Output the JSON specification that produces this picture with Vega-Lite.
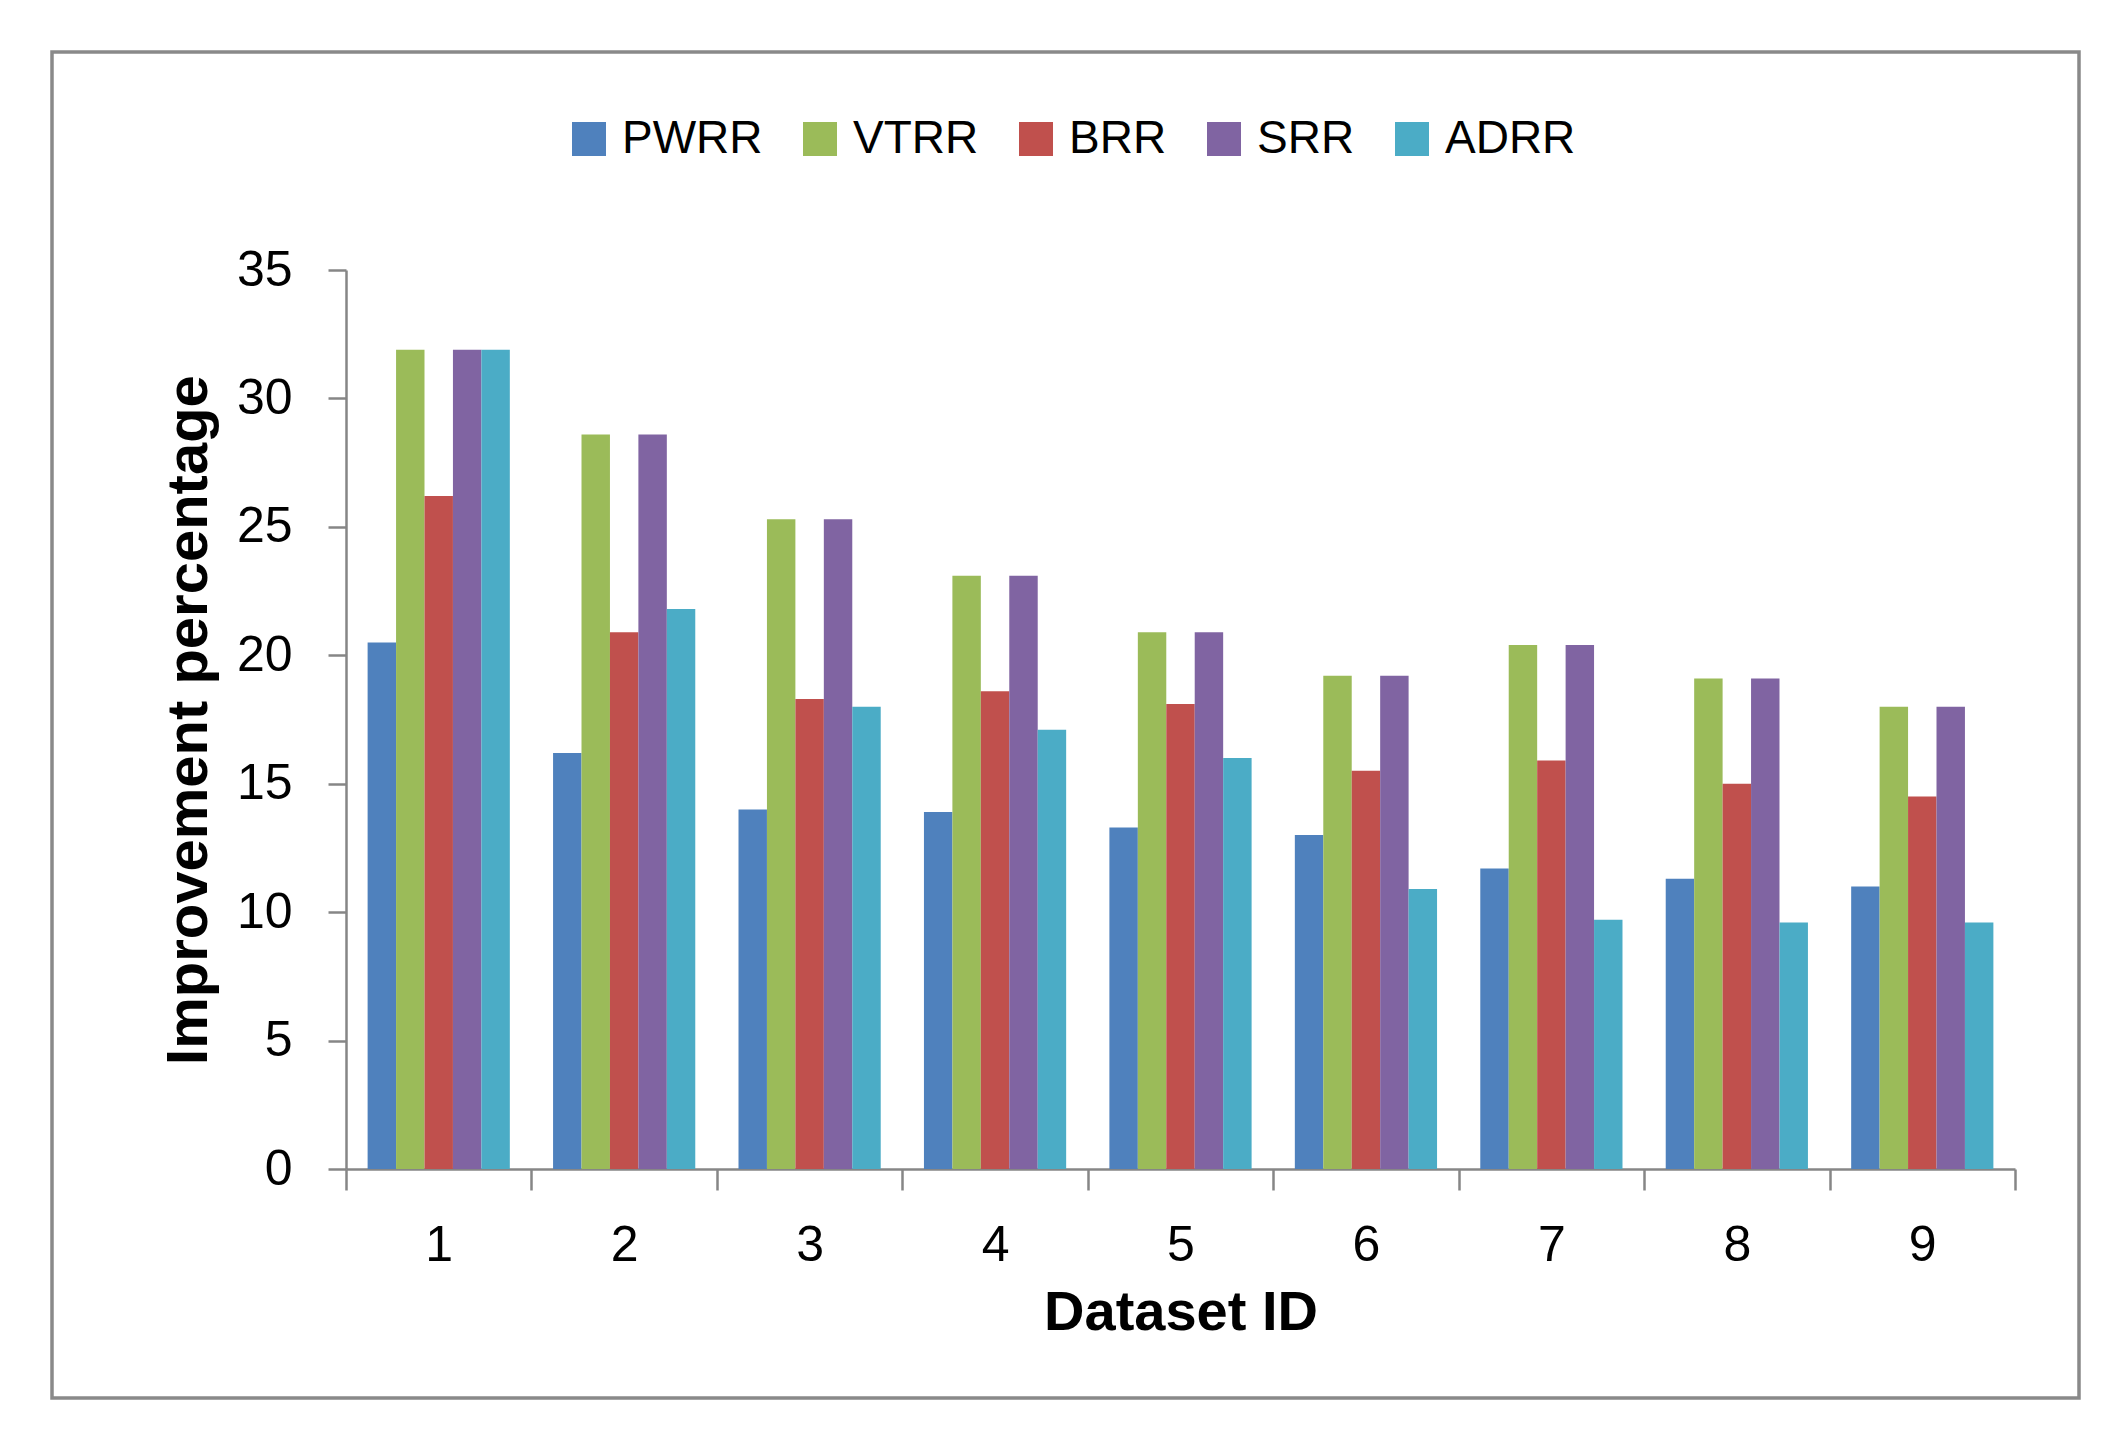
{
  "$schema": "https://vega.github.io/schema/vega-lite/v6.json",
  "width": 2027,
  "height": 1346,
  "autosize": "none",
  "padding": {"left": 52, "top": 52, "right": 49, "bottom": 57},
  "background": "white",
  "config": {
    "view": {"stroke": "#898989", "strokeWidth": 3.5},
    "font": "Liberation Sans"
  },
  "data": {
    "values": [
      {"Dataset": "1", "Method": "PWRR", "Value": 20.5},
      {"Dataset": "1", "Method": "VTRR", "Value": 31.9},
      {"Dataset": "1", "Method": "BRR", "Value": 26.2},
      {"Dataset": "1", "Method": "SRR", "Value": 31.9},
      {"Dataset": "1", "Method": "ADRR", "Value": 31.9},
      {"Dataset": "2", "Method": "PWRR", "Value": 16.2},
      {"Dataset": "2", "Method": "VTRR", "Value": 28.6},
      {"Dataset": "2", "Method": "BRR", "Value": 20.9},
      {"Dataset": "2", "Method": "SRR", "Value": 28.6},
      {"Dataset": "2", "Method": "ADRR", "Value": 21.8},
      {"Dataset": "3", "Method": "PWRR", "Value": 14.0},
      {"Dataset": "3", "Method": "VTRR", "Value": 25.3},
      {"Dataset": "3", "Method": "BRR", "Value": 18.3},
      {"Dataset": "3", "Method": "SRR", "Value": 25.3},
      {"Dataset": "3", "Method": "ADRR", "Value": 18.0},
      {"Dataset": "4", "Method": "PWRR", "Value": 13.9},
      {"Dataset": "4", "Method": "VTRR", "Value": 23.1},
      {"Dataset": "4", "Method": "BRR", "Value": 18.6},
      {"Dataset": "4", "Method": "SRR", "Value": 23.1},
      {"Dataset": "4", "Method": "ADRR", "Value": 17.1},
      {"Dataset": "5", "Method": "PWRR", "Value": 13.3},
      {"Dataset": "5", "Method": "VTRR", "Value": 20.9},
      {"Dataset": "5", "Method": "BRR", "Value": 18.1},
      {"Dataset": "5", "Method": "SRR", "Value": 20.9},
      {"Dataset": "5", "Method": "ADRR", "Value": 16.0},
      {"Dataset": "6", "Method": "PWRR", "Value": 13.0},
      {"Dataset": "6", "Method": "VTRR", "Value": 19.2},
      {"Dataset": "6", "Method": "BRR", "Value": 15.5},
      {"Dataset": "6", "Method": "SRR", "Value": 19.2},
      {"Dataset": "6", "Method": "ADRR", "Value": 10.9},
      {"Dataset": "7", "Method": "PWRR", "Value": 11.7},
      {"Dataset": "7", "Method": "VTRR", "Value": 20.4},
      {"Dataset": "7", "Method": "BRR", "Value": 15.9},
      {"Dataset": "7", "Method": "SRR", "Value": 20.4},
      {"Dataset": "7", "Method": "ADRR", "Value": 9.7},
      {"Dataset": "8", "Method": "PWRR", "Value": 11.3},
      {"Dataset": "8", "Method": "VTRR", "Value": 19.1},
      {"Dataset": "8", "Method": "BRR", "Value": 15.0},
      {"Dataset": "8", "Method": "SRR", "Value": 19.1},
      {"Dataset": "8", "Method": "ADRR", "Value": 9.6},
      {"Dataset": "9", "Method": "PWRR", "Value": 11.0},
      {"Dataset": "9", "Method": "VTRR", "Value": 18.0},
      {"Dataset": "9", "Method": "BRR", "Value": 14.5},
      {"Dataset": "9", "Method": "SRR", "Value": 18.0},
      {"Dataset": "9", "Method": "ADRR", "Value": 9.6}
    ]
  },
  "mark": {"type": "bar"},
  "encoding": {
    "x": {
      "field": "Dataset",
      "type": "ordinal",
      "scale": {"range": [294, 1963], "paddingInner": 0, "paddingOuter": 0},
      "axis": {
        "offset": -229,
        "tickBand": "extent",
        "tickSize": 21,
        "tickWidth": 2.5,
        "tickColor": "#868686",
        "domainColor": "#868686",
        "domainWidth": 2.5,
        "labelAngle": 0,
        "labelPadding": 30,
        "labelFontSize": 50,
        "labelColor": "black",
        "title": "Dataset ID",
        "titleFontSize": 56,
        "titleFontWeight": "bold",
        "titleColor": "black",
        "titlePadding": 15,
        "grid": false
      }
    },
    "xOffset": {
      "field": "Method",
      "type": "nominal",
      "sort": ["PWRR", "VTRR", "BRR", "SRR", "ADRR"],
      "scale": {"paddingInner": 0, "paddingOuter": 0.76}
    },
    "y": {
      "field": "Value",
      "type": "quantitative",
      "scale": {"domain": [0, 35], "range": [1117, 218], "nice": false, "zero": true},
      "axis": {
        "offset": -294,
        "values": [0, 5, 10, 15, 20, 25, 30, 35],
        "tickSize": 18,
        "tickWidth": 2.5,
        "tickColor": "#868686",
        "domainColor": "#868686",
        "domainWidth": 2.5,
        "labelPadding": 36,
        "labelFontSize": 50,
        "labelColor": "black",
        "title": "Improvement percentage",
        "titleFontSize": 58,
        "titleFontWeight": "bold",
        "titleColor": "black",
        "titlePadding": 18,
        "grid": false
      }
    },
    "color": {
      "field": "Method",
      "type": "nominal",
      "sort": ["PWRR", "VTRR", "BRR", "SRR", "ADRR"],
      "scale": {
        "domain": ["PWRR", "VTRR", "BRR", "SRR", "ADRR"],
        "range": ["#4F81BD", "#9BBB59", "#C0504D", "#8064A2", "#4BACC6"]
      },
      "legend": {
        "orient": "none",
        "legendX": 514,
        "legendY": 64,
        "direction": "horizontal",
        "title": null,
        "symbolType": "square",
        "symbolSize": 1156,
        "symbolStrokeWidth": 0,
        "labelFontSize": 46,
        "labelOffset": 10,
        "labelColor": "black",
        "columnPadding": 34
      }
    }
  }
}
